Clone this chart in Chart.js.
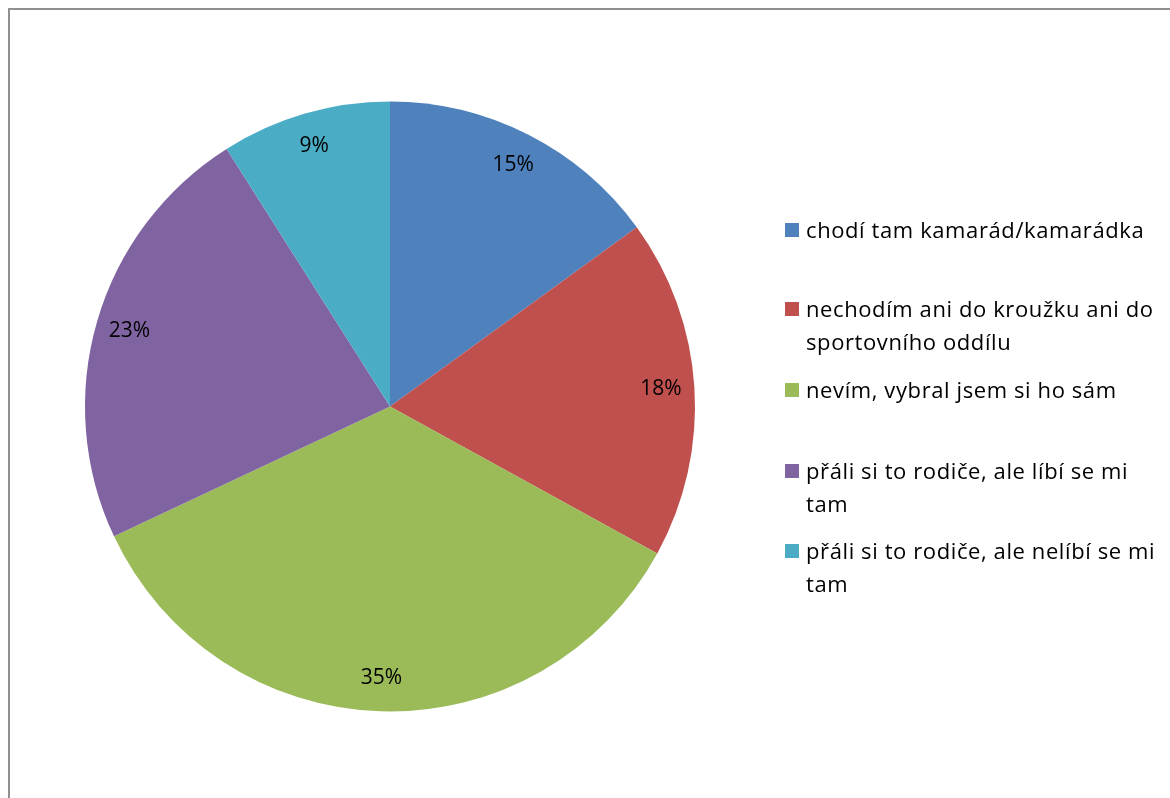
<!DOCTYPE html>
<html lang="cs">
<head>
    <meta charset="UTF-8">
    <title>Pie chart</title>
    <style>
        body {
            margin: 0;
            background: #ffffff;
            font-family: "Open Sans", sans-serif;
        }
        .frame {
            position: absolute;
            left: 8px;
            top: 8px;
            width: 1200px;
            height: 900px;
            border: 2px solid #909090;
            box-sizing: border-box;
        }
        .chart-box {
            position: absolute;
            left: 0;
            top: 0;
            width: 1170px;
            height: 798px;
        }
        #legend {
            position: absolute;
            left: 785px;
            top: 0;
            width: 385px;
            font-size: 22px;
            letter-spacing: 0.6px;
            color: #000;
        }
        .item {
            position: absolute;
            left: 0;
            width: 383px;
        }
        .swatch {
            position: absolute;
            left: 0;
            top: 10px;
            width: 14px;
            height: 14px;
        }
        .txt {
            margin-left: 21px;
            line-height: 33px;
        }
    </style>
</head>
<body>
    <div class="frame"></div>
    <div class="chart-box">
        <canvas id="pieChart" width="1170" height="798"></canvas>
    </div>
    <div id="legend"></div>

    <script src="https://cdn.jsdelivr.net/npm/chart.js@4/dist/chart.umd.min.js"></script>
    <script>
        // data
        var categories = [
            'chodí tam kamarád/kamarádka',
            'nechodím ani do kroužku ani do sportovního oddílu',
            'nevím, vybral jsem si ho sám',
            'přáli si to rodiče, ale líbí se mi tam',
            'přáli si to rodiče, ale nelíbí se mi tam'
        ];
        var values = [15, 18, 35, 23, 9];
        var colors = ['#4F81BD', '#C0504D', '#9BBB59', '#8064A2', '#4BACC6'];
        var legendTops = [213, 292, 373, 454, 534];

        // percent labels inside the slices
        var percentLabels = {
            id: 'percentLabels',
            afterDatasetsDraw: function(chart) {
                var ctx = chart.ctx;
                var meta = chart.getDatasetMeta(0);
                var total = values.reduce(function(a, b) { return a + b; }, 0);
                ctx.save();
                ctx.font = '21px "Open Sans", sans-serif';
                ctx.fillStyle = '#000';
                ctx.textAlign = 'center';
                ctx.textBaseline = 'middle';
                meta.data.forEach(function(arc, i) {
                    var mid = (arc.startAngle + arc.endAngle) / 2;
                    var r = arc.outerRadius * 0.89;
                    var x = arc.x + Math.cos(mid) * r;
                    var y = arc.y + Math.sin(mid) * r;
                    ctx.fillText(Math.round(values[i] / total * 100) + '%', x, y);
                });
                ctx.restore();
            }
        };

        var ctx = document.getElementById('pieChart').getContext('2d');
        var pieChart = new Chart(ctx, {
            type: 'pie',
            data: {
                labels: categories,
                datasets: [{
                    data: values,
                    backgroundColor: colors,
                    borderWidth: 0
                }]
            },
            options: {
                responsive: false,
                animation: false,
                layout: {
                    padding: { left: 85, right: 475, top: 101, bottom: 86 }
                },
                plugins: {
                    legend: { display: false },
                    tooltip: { enabled: false }
                }
            },
            plugins: [percentLabels]
        });

        // legend on the right, wraps like the original
        var legend = document.getElementById('legend');
        categories.forEach(function(name, i) {
            var item = document.createElement('div');
            item.className = 'item';
            item.style.top = legendTops[i] + 'px';
            var sw = document.createElement('div');
            sw.className = 'swatch';
            sw.style.background = colors[i];
            var t = document.createElement('div');
            t.className = 'txt';
            t.textContent = name;
            item.appendChild(sw);
            item.appendChild(t);
            legend.appendChild(item);
        });
    </script>
</body>
</html>
